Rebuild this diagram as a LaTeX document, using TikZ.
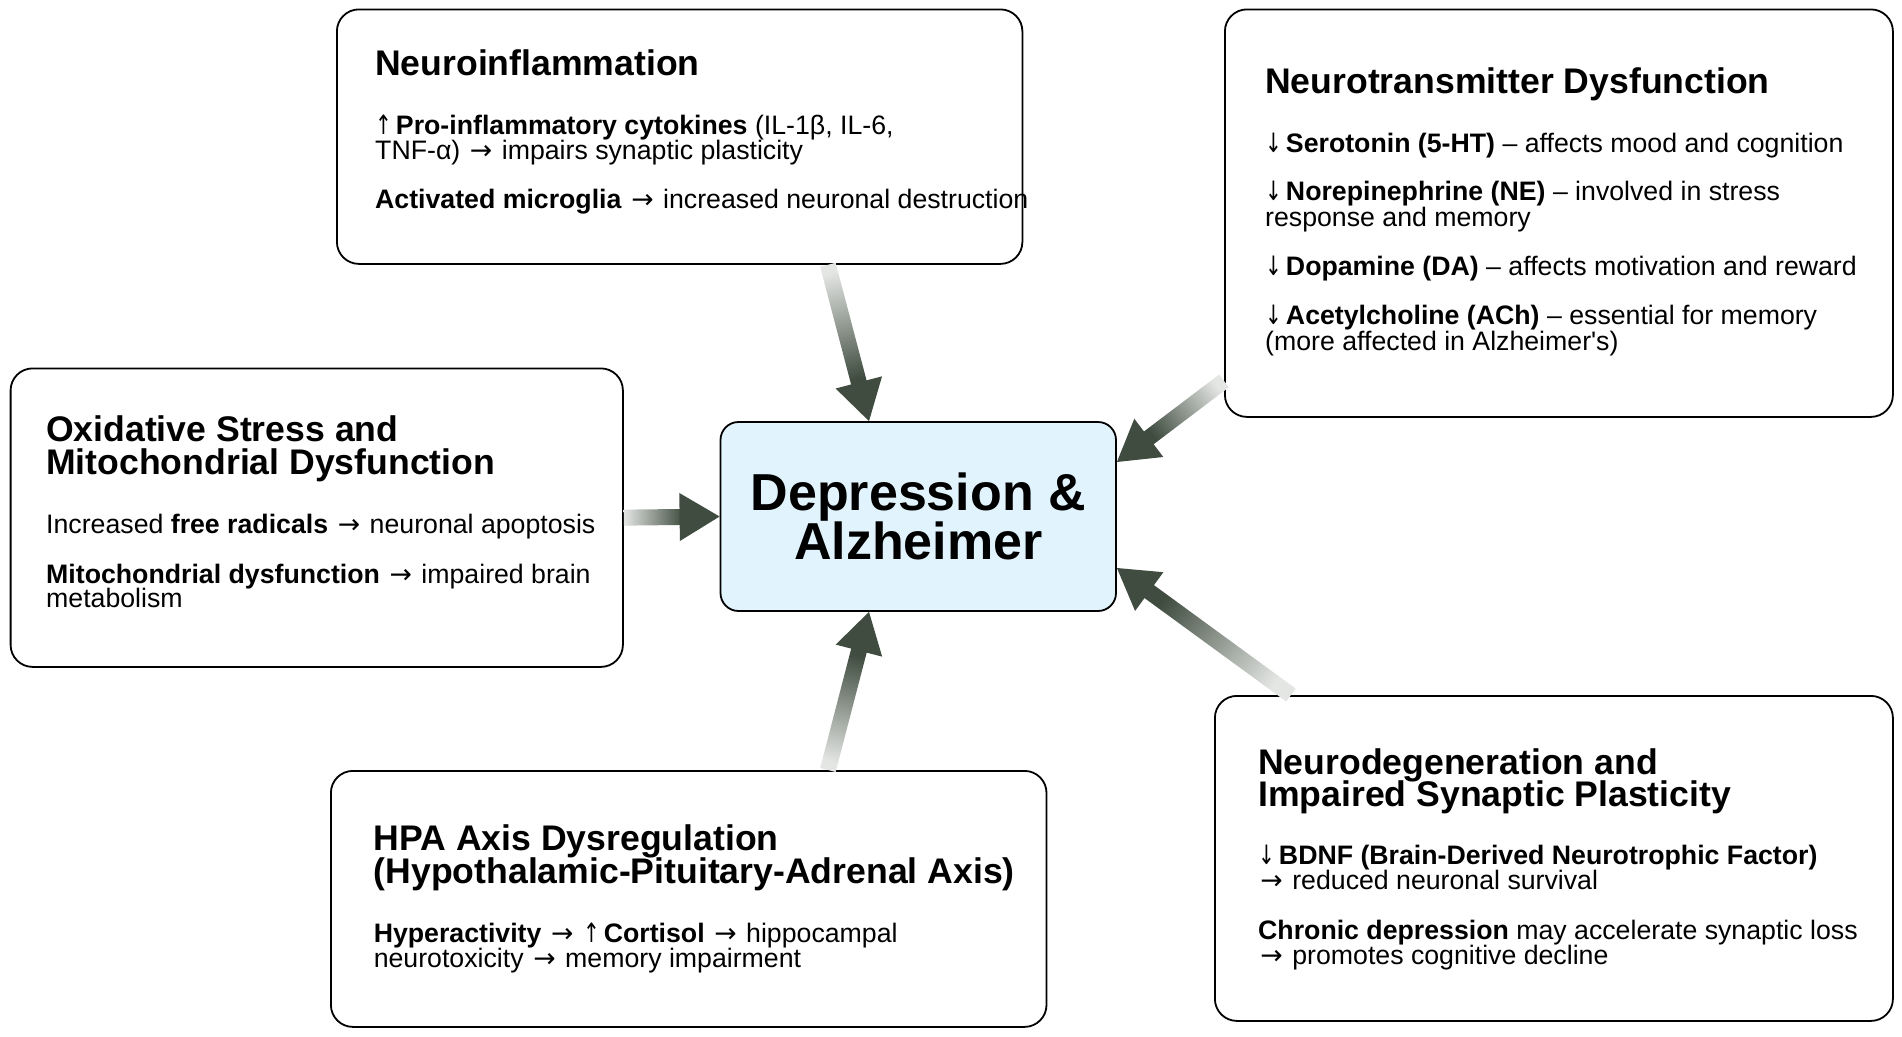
\documentclass[tikz,border=0pt]{standalone}
\usepackage{fontspec}
\usepackage{graphicx}
\setmainfont{Liberation Sans}
\newfontfamily\arrowfont{DejaVu Sans}
\newcommand\rarr{\makebox[1em][c]{\arrowfont\mdseries →}}
\newcommand\darr{\makebox[0.5em][l]{\scalebox{0.75}[1]{\arrowfont\mdseries ↓}}}
\newcommand\uarr{\makebox[0.5em][l]{\scalebox{0.75}[1]{\arrowfont\mdseries ↑}}}
\usetikzlibrary{calc}
\definecolor{arrdark}{HTML}{3F4C3F}
\definecolor{arrlight}{HTML}{E4E6E4}
\definecolor{cfill}{HTML}{E1F3FD}
\tikzset{
  box/.style={draw=black, line width=1.8pt, rounded corners=22pt, fill=white, anchor=north west, inner sep=0pt},
  body/.style={anchor=base west, inner sep=0pt, font=\fontsize{26.7}{25.5}\selectfont},
  ttl/.style={anchor=base west, inner sep=0pt, font=\fontsize{35.6}{33}\selectfont\bfseries},
  cbox/.style={draw=black, line width=1.8pt, rounded corners=18pt, fill=cfill, inner sep=0pt, align=center,
    font=\fontsize{52}{47.5}\selectfont\bfseries},
}
\newcommand\gradarrow[3]{%
  \coordinate (#1-hb) at ($(#2)!40pt!(#1)$);
  \coordinate (#1-sb) at ($(#2)!36pt!(#1)$);
  \shade[top color=arrdark, bottom color=arrlight, shading angle=#3]
    ($(#1)!8pt!90:(#2)$) -- ($(#1-sb)!8pt!90:(#2)$) -- ($(#1-sb)!8pt!-90:(#2)$) -- ($(#1)!8pt!-90:(#2)$) -- cycle;
  \fill[arrdark] ($(#1-hb)!24pt!90:(#2)$) -- (#2) -- ($(#1-hb)!24pt!-90:(#2)$) -- cycle;
}
\begin{document}
\begin{tikzpicture}[x=1pt,y=-1pt]
\useasboundingbox[fill=white] (0,0) rectangle (1902,1036);

% boxes
\node[box, minimum width=685.5pt, minimum height=254.5pt] (neuro) at (336,8.5) {};
\node[box, minimum width=668pt, minimum height=407.5pt] (nt) at (1224,8.5) {};
\node[box, minimum width=612.3pt, minimum height=298.5pt] (ox) at (9.7,367.5) {};
\node[box, minimum width=715.6pt, minimum height=256pt] (hpa) at (330,770) {};
\node[box, minimum width=678pt, minimum height=325pt] (nd) at (1214,695) {};
\node[cbox, minimum width=395.5pt, minimum height=189pt] (center) at (918.25,516.5) {Depression \&\\Alzheimer};

% Neuroinflammation
\node[ttl] (neuroT) at (375,75.5) {Neuroinflammation};
\node[body] (neuroA) at (375,134) {\uarr\ \textbf{Pro-inflammatory cytokines} (IL-1β, IL-6,};
\node[body] (neuroB) at (375,159.5) {TNF-α) \rarr\ impairs synaptic plasticity};
\node[body] (neuroC) at (375,208) {\textbf{Activated microglia} \rarr\ increased neuronal destruction};

% Neurotransmitter
\node[ttl] (ntT) at (1265,93.5) {Neurotransmitter Dysfunction};
\node[body] (ntA) at (1265,152.3) {\darr\ \textbf{Serotonin (5-HT)} – affects mood and cognition};
\node[body] (ntB) at (1265,200.7) {\darr\ \textbf{Norepinephrine (NE)} – involved in stress};
\node[body] (ntC) at (1265,226) {response and memory};
\node[body] (ntD) at (1265,275) {\darr\ \textbf{Dopamine (DA)} – affects motivation and reward};
\node[body] (ntE) at (1265,324.5) {\darr\ \textbf{Acetylcholine (ACh)} – essential for memory};
\node[body] (ntF) at (1265,350) {(more affected in Alzheimer\textquotesingle s)};

% Oxidative
\node[ttl] (oxT1) at (46,441.5) {Oxidative Stress and};
\node[ttl] (oxT2) at (46,474) {Mitochondrial Dysfunction};
\node[body] (oxA) at (46,533) {Increased \textbf{free radicals} \rarr\ neuronal apoptosis};
\node[body] (oxB) at (46,583) {\textbf{Mitochondrial dysfunction} \rarr\ impaired brain};
\node[body] (oxC) at (46,607.5) {metabolism};

% HPA
\node[ttl] (hpaT1) at (373.6,850) {HPA Axis Dysregulation};
\node[ttl] (hpaT2) at (373.6,883) {(Hypothalamic-Pituitary-Adrenal Axis)};
\node[body] (hpaA) at (373.6,942) {\textbf{Hyperactivity} \rarr\ \uarr\ \textbf{Cortisol} \rarr\ hippocampal};
\node[body] (hpaB) at (373.6,967) {neurotoxicity \rarr\ memory impairment};

% Neurodegeneration
\node[ttl] (ndT1) at (1258,774) {Neurodegeneration and};
\node[ttl] (ndT2) at (1258,806.5) {Impaired Synaptic Plasticity};
\node[body] (ndA) at (1258,864) {\darr\ \textbf{BDNF (Brain-Derived Neurotrophic Factor)}};
\node[body] (ndB) at (1258,889.6) {\rarr\ reduced neuronal survival};
\node[body] (ndC) at (1258,939) {\textbf{Chronic depression} may accelerate synaptic loss};
\node[body] (ndD) at (1258,964) {\rarr\ promotes cognitive decline};

% arrow end points
\coordinate (t1) at ($(neuro.south)+(148.25,0)$);
\coordinate (h1) at ($(center.north)+(-49.25,0)$);
\coordinate (t2) at ($(nt.west)+(0,167.75)$);
\coordinate (h2) at ($(center.east)+(0,-54.5)$);
\coordinate (t3) at (ox.east);
\coordinate (h3) at (center.west);
\coordinate (t4) at ($(hpa.north)+(139.2,0)$);
\coordinate (h4) at ($(center.south)+(-49.25,0)$);
\coordinate (t5) at ($(nd.north)+(-263,0)$);
\coordinate (h5) at ($(center.east)+(0,51.5)$);

\gradarrow{t1}{h1}{-165.2}
\gradarrow{t2}{h2}{127.5}
\gradarrow{t3}{h3}{-90}
\gradarrow{t4}{h4}{-14.8}
\gradarrow{t5}{h5}{52.9}
\end{tikzpicture}
\end{document}
